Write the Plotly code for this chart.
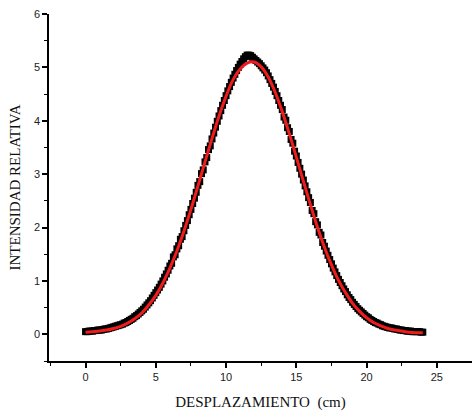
import plotly.graph_objects as go

# Measured data (black squares), x from 0 to 24 in steps of 0.125
x_data = [i * 0.125 for i in range(193)]
y_data = [
    0.05, 0.05, 0.06, 0.06, 0.06, 0.07, 0.07, 0.08,
    0.08, 0.08, 0.09, 0.10, 0.10, 0.11, 0.12, 0.13,
    0.14, 0.15, 0.16, 0.17, 0.18, 0.19, 0.21, 0.22,
    0.24, 0.26, 0.28, 0.30, 0.33, 0.35, 0.38, 0.41,
    0.44, 0.47, 0.51, 0.55, 0.59, 0.63, 0.68, 0.73,
    0.78, 0.83, 0.88, 0.94, 1.00, 1.07, 1.13, 1.20,
    1.28, 1.33, 1.45, 1.49, 1.60, 1.66, 1.78, 1.83,
    1.94, 2.04, 2.13, 2.24, 2.34, 2.45, 2.55, 2.66,
    2.79, 2.86, 3.01, 3.08, 3.23, 3.31, 3.46, 3.53,
    3.66, 3.77, 3.88, 3.99, 4.09, 4.19, 4.29, 4.38,
    4.47, 4.56, 4.64, 4.72, 4.80, 4.87, 4.94, 5.00,
    5.06, 5.11, 5.16, 5.20, 5.23, 5.23, 5.22, 5.19,
    5.16, 5.13, 5.10, 5.07, 5.03, 4.99, 4.95, 4.90,
    4.84, 4.77, 4.70, 4.63, 4.55, 4.47, 4.38, 4.29,
    4.21, 4.07, 4.01, 3.87, 3.80, 3.65, 3.58, 3.43,
    3.34, 3.22, 3.11, 3.00, 2.89, 2.78, 2.67, 2.56,
    2.47, 2.32, 2.26, 2.11, 2.05, 1.91, 1.86, 1.72,
    1.65, 1.56, 1.48, 1.40, 1.32, 1.24, 1.17, 1.10,
    1.03, 0.97, 0.91, 0.85, 0.80, 0.74, 0.69, 0.65,
    0.60, 0.56, 0.52, 0.48, 0.45, 0.42, 0.39, 0.36,
    0.33, 0.31, 0.28, 0.26, 0.24, 0.22, 0.21, 0.19,
    0.18, 0.16, 0.15, 0.14, 0.13, 0.12, 0.12, 0.11,
    0.10, 0.10, 0.09, 0.08, 0.08, 0.07, 0.07, 0.06,
    0.06, 0.06, 0.05, 0.05, 0.05, 0.05, 0.05, 0.04,
    0.04,
]

# Fitted curve (red line), x from 0 to 24 in steps of 0.5
x_fit = [i * 0.5 for i in range(49)]
y_fit = [
    0.04, 0.05, 0.06, 0.08, 0.11, 0.15, 0.21, 0.29, 0.40, 0.55,
    0.73, 0.96, 1.24, 1.56, 1.93, 2.34, 2.78, 3.23, 3.67, 4.09,
    4.46, 4.77, 4.97, 5.08, 5.10, 5.01, 4.82, 4.53, 4.17, 3.76,
    3.32, 2.87, 2.43, 2.01, 1.63, 1.30, 1.01, 0.78, 0.58, 0.43,
    0.31, 0.22, 0.16, 0.11, 0.08, 0.06, 0.04, 0.03, 0.03,
]

x_ticks = [0, 5, 10, 15, 20, 25]
y_ticks = [0, 1, 2, 3, 4, 5, 6]

fig = go.Figure()
fig.add_trace(go.Scatter(
    x=x_data, y=y_data, mode="markers",
    marker=dict(symbol="square", size=7, color="black", line=dict(width=0)),
    showlegend=False,
))
fig.add_trace(go.Scatter(
    x=x_fit, y=y_fit, mode="lines", line=dict(color="#ee1c1c", width=3, shape="spline"),
    showlegend=False,
))

tickfont = dict(family="Liberation Sans, Arial, sans-serif", size=11, color="#222")
titlefont = dict(family="Liberation Serif, Times New Roman, serif", size=15, color="#111")

fig.update_layout(
    width=472, height=415,
    margin=dict(l=49, r=0, t=14, b=54),
    plot_bgcolor="white", paper_bgcolor="white",
    xaxis=dict(
        range=[-2.6, 27.5], tickvals=x_ticks, ticks="outside", ticklen=5, tickwidth=1.5,
        tickcolor="black", showline=True, linecolor="black", linewidth=1.5,
        showgrid=False, zeroline=False, tickfont=tickfont,
        minor=dict(dtick=2.5, tick0=0, ticks="outside", ticklen=3, tickwidth=1.2, tickcolor="black", showgrid=False),
        title=dict(text="DESPLAZAMIENTO\u00a0\u00a0(cm)", font=titlefont, standoff=15),
    ),
    yaxis=dict(
        range=[-0.5, 6], tickvals=y_ticks, ticks="outside", ticklen=5, tickwidth=1.5,
        tickcolor="black", showline=True, linecolor="black", linewidth=1.5,
        showgrid=False, zeroline=False, tickfont=tickfont,
        minor=dict(dtick=0.5, tick0=0, ticks="outside", ticklen=3, tickwidth=1.2, tickcolor="black", showgrid=False),
        title=dict(text="INTENSIDAD RELATIVA", font=titlefont, standoff=10),
    ),
)

fig.write_html("out.html")
